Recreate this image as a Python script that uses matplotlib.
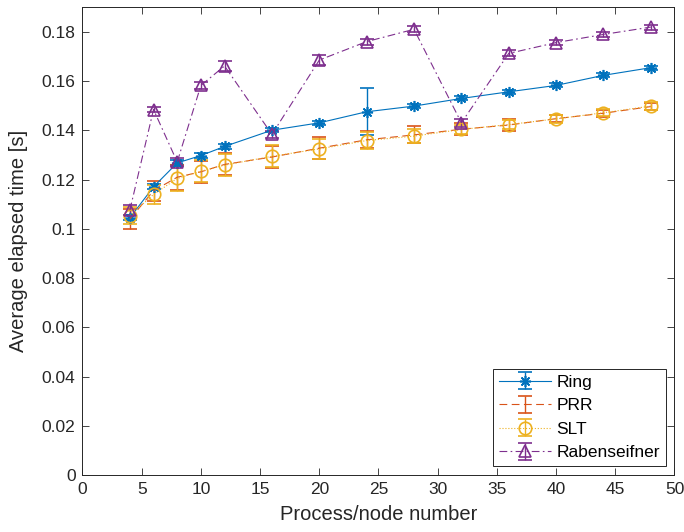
import matplotlib.pyplot as plt
import numpy as np

plt.rcParams["font.family"] = ["Liberation Sans", "DejaVu Sans"]

nodes = [4, 6, 8, 10, 12, 16, 20, 24, 28, 32, 36, 40, 44, 48]

ring = [0.1045, 0.1171, 0.1268, 0.1298, 0.1335, 0.1401, 0.1431, 0.1476,
        0.1499, 0.1530, 0.1557, 0.1583, 0.1624, 0.1655]
ring_err = [0.0010, 0.0010, 0.0010, 0.0010, 0.0010, 0.0008, 0.0008, 0.0095,
            0.0008, 0.0008, 0.0008, 0.0008, 0.0008, 0.0008]

prr = [0.1040, 0.1155, 0.1210, 0.1232, 0.1262, 0.1292, 0.1328, 0.1362,
       0.1382, 0.1405, 0.1422, 0.1448, 0.1470, 0.1497]
prr_err = [0.0040, 0.0040, 0.0050, 0.0045, 0.0045, 0.0045, 0.0045, 0.0035,
           0.0035, 0.0025, 0.0025, 0.0015, 0.0015, 0.0015]

slt = [0.1054, 0.1140, 0.1205, 0.1234, 0.1259, 0.1295, 0.1325, 0.1359,
       0.1377, 0.1404, 0.1424, 0.1447, 0.1472, 0.1499]
slt_err = [0.0035, 0.0040, 0.0050, 0.0045, 0.0045, 0.0045, 0.0040, 0.0035,
           0.0030, 0.0020, 0.0020, 0.0015, 0.0015, 0.0015]

raben = [0.1076, 0.1485, 0.1272, 0.1583, 0.1662, 0.1384, 0.1686, 0.1761,
         0.1811, 0.1431, 0.1713, 0.1757, 0.1790, 0.1820]
raben_err = [0.0020, 0.0010, 0.0015, 0.0015, 0.0020, 0.0015, 0.0020, 0.0012,
             0.0012, 0.0015, 0.0012, 0.0010, 0.0010, 0.0010]

# asterisk marker like MATLAB's '*'
series = [
    ("Ring", ring, ring_err, "#0072BD", "-", (8, 2, 0), 8),
    ("PRR", prr, prr_err, "#D95319", (0, (7, 4)), "none", 8),
    ("SLT", slt, slt_err, "#EDB120", ":", "o", 9),
    ("Rabenseifner", raben, raben_err, "#7E2F8E", (0, (7, 3, 1.5, 3)), "^", 9),
]

fig = plt.figure(figsize=(6.84, 5.32), dpi=100)
ax = fig.add_axes([0.1206, 0.1071, 0.8655, 0.879])

for name, vals, err, color, ls, marker, ms in series:
    ax.errorbar(nodes, vals, yerr=err, color=color, linestyle=ls, marker=marker,
                markersize=ms, markerfacecolor="none", markeredgewidth=1.2,
                linewidth=0.8, elinewidth=1.0, capsize=5, capthick=1.5,
                label=name)

ax.set_xlim(0, 50)
ax.set_ylim(0, 0.19)
ax.set_xticks(np.arange(0, 51, 5))
ax.set_yticks(np.arange(0, 0.181, 0.02))
ax.set_yticklabels(["0"] + [f"{v:g}" for v in np.arange(0.02, 0.181, 0.02).round(2)])
ax.tick_params(direction="in", top=True, right=True, labelsize=12.5, length=5,
               width=0.6, colors="#262626", pad=5)
for s in ax.spines.values():
    s.set_linewidth(0.7)
    s.set_color("#262626")
ax.set_xlabel("Process/node number", fontsize=14.5, color="#262626", labelpad=6)
ax.set_ylabel("Average elapsed time [s]", fontsize=14.5, color="#262626", labelpad=10)

leg = ax.legend(loc="lower right", fontsize=12.5, fancybox=False, framealpha=1,
                edgecolor="#262626", borderaxespad=0.5, handlelength=3.0,
                handletextpad=0.3, labelspacing=0.48, borderpad=0.35)
leg.get_frame().set_linewidth(0.7)

plt.savefig("out.png", dpi=100)
